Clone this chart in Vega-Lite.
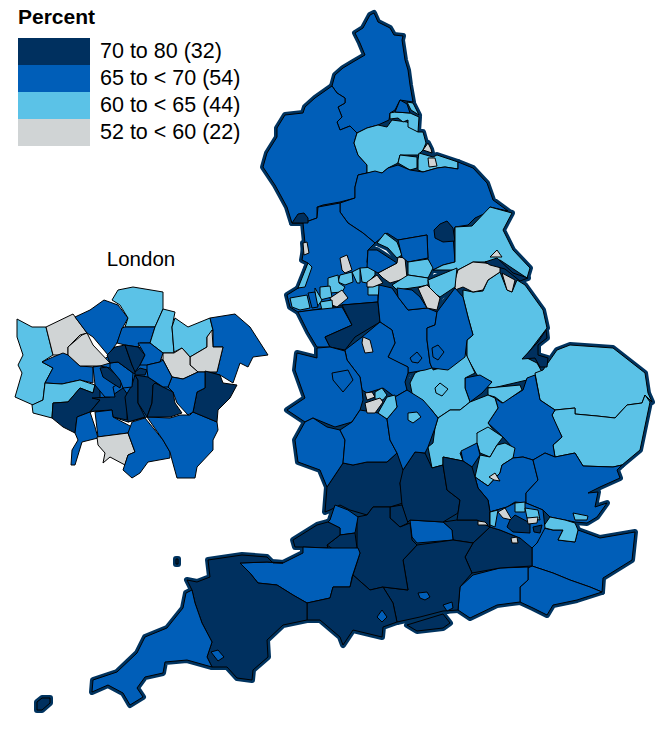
{"$schema":"https://vega.github.io/schema/vega-lite/v6.json","width":669,"height":730,"padding":0,"autosize":"none","background":"white","config":{"view":{"stroke":null},"font":"Liberation Sans"},
"datasets":{"label":[{"text":"London","mapx":141,"mapy":260}],
"map":[
{"type":"Feature","properties":{"name":"Northumberland","band":"65 to < 70 (54)","area":"England"},"geometry":{"type":"Polygon","coordinates":[[[374,13],[378,22],[390,28],[394,35],[403,36],[402,40],[405,60],[408,70],[410,85],[413,102],[400,100],[395,110],[390,113],[389,120],[378,125],[367,128],[357,133],[350,126],[340,130],[337,122],[342,117],[338,107],[345,103],[345,98],[337,93],[332,86],[335,75],[343,68],[353,62],[365,55],[360,43],[355,33],[363,28],[370,15],[374,13]]]}},
{"type":"Feature","properties":{"name":"Cumbria","band":"65 to < 70 (54)","area":"England"},"geometry":{"type":"Polygon","coordinates":[[[332,86],[315,98],[305,107],[303,113],[285,115],[277,128],[277,137],[267,153],[263,167],[275,185],[287,207],[292,223],[303,223],[317,218],[317,207],[323,205],[340,202],[355,198],[355,187],[358,175],[367,173],[367,165],[358,155],[354,143],[357,133],[350,126],[340,130],[337,122],[342,117],[338,107],[345,103],[345,98],[337,93],[332,86]]]}},
{"type":"Feature","properties":{"name":"Durham","band":"60 to < 65 (44)","area":"England"},"geometry":{"type":"Polygon","coordinates":[[[357,133],[367,128],[378,125],[387,127],[392,120],[407,122],[418,132],[423,132],[426,143],[423,150],[418,155],[400,155],[398,163],[388,168],[382,173],[373,172],[367,173],[367,165],[358,155],[354,143],[357,133]]]}},
{"type":"Feature","properties":{"name":"Tyne","band":"60 to < 65 (44)","area":"England"},"geometry":{"type":"Polygon","coordinates":[[[390,113],[395,112],[410,113],[419,117],[418,132],[408,127],[408,120],[403,122],[398,118],[390,119],[390,113]]]}},
{"type":"Feature","properties":{"name":"Newcastle","band":"65 to < 70 (54)","area":"England"},"geometry":{"type":"Polygon","coordinates":[[[400,100],[407,104],[410,113],[395,112],[400,100]]]}},
{"type":"Feature","properties":{"name":"North Tyneside","band":"60 to < 65 (44)","area":"England"},"geometry":{"type":"Polygon","coordinates":[[[407,102],[413,103],[419,115],[411,110],[407,102]]]}},
{"type":"Feature","properties":{"name":"Hartlepool","band":"52 to < 60 (22)","area":"England"},"geometry":{"type":"Polygon","coordinates":[[[423,150],[428,143],[431,149],[432,153],[423,150]]]}},
{"type":"Feature","properties":{"name":"Stockton","band":"60 to < 65 (44)","area":"England"},"geometry":{"type":"Polygon","coordinates":[[[419,153],[433,157],[437,155],[458,162],[458,169],[445,167],[437,168],[423,172],[418,170],[418,160],[419,153]]]}},
{"type":"Feature","properties":{"name":"Darlington","band":"60 to < 65 (44)","area":"England"},"geometry":{"type":"Polygon","coordinates":[[[400,155],[417,157],[417,168],[410,170],[398,163],[400,155]]]}},
{"type":"Feature","properties":{"name":"Middlesbrough","band":"52 to < 60 (22)","area":"England"},"geometry":{"type":"Polygon","coordinates":[[[428,158],[435,158],[437,166],[429,167],[428,158]]]}},
{"type":"Feature","properties":{"name":"North Yorkshire","band":"65 to < 70 (54)","area":"England"},"geometry":{"type":"Polygon","coordinates":[[[367,173],[375,171],[382,173],[388,168],[398,165],[410,170],[423,172],[437,168],[445,167],[458,169],[458,162],[473,168],[487,183],[493,200],[508,211],[490,207],[488,212],[475,218],[468,225],[455,227],[453,235],[455,262],[443,265],[433,270],[428,260],[427,235],[398,240],[387,233],[375,243],[363,233],[348,223],[340,212],[340,203],[355,198],[355,187],[358,175],[367,173]]]}},
{"type":"Feature","properties":{"name":"York","band":"70 to 80 (32)","area":"England"},"geometry":{"type":"Polygon","coordinates":[[[434,230],[440,224],[447,221],[453,228],[455,241],[443,242],[435,238],[434,230]]]}},
{"type":"Feature","properties":{"name":"East Riding","band":"60 to < 65 (44)","area":"England"},"geometry":{"type":"Polygon","coordinates":[[[455,227],[472,226],[490,207],[512,213],[503,230],[513,250],[530,268],[527,278],[500,260],[485,262],[473,262],[458,270],[433,270],[443,265],[455,262],[455,240],[455,227]]]}},
{"type":"Feature","properties":{"name":"Hull","band":"52 to < 60 (22)","area":"England"},"geometry":{"type":"Polygon","coordinates":[[[490,257],[497,250],[502,257],[490,257]]]}},
{"type":"Feature","properties":{"name":"Lincolnshire","band":"60 to < 65 (44)","area":"England"},"geometry":{"type":"Polygon","coordinates":[[[463,290],[473,292],[483,291],[488,280],[500,272],[507,290],[512,292],[517,280],[525,285],[543,310],[547,328],[525,357],[537,363],[542,372],[527,380],[493,388],[487,387],[492,382],[477,375],[473,368],[467,357],[467,340],[473,335],[468,317],[463,297],[463,290]]]}},
{"type":"Feature","properties":{"name":"North Lincolnshire","band":"52 to < 60 (22)","area":"England"},"geometry":{"type":"Polygon","coordinates":[[[458,270],[473,262],[485,263],[500,265],[500,272],[488,280],[483,290],[473,292],[463,287],[455,290],[455,280],[458,270]]]}},
{"type":"Feature","properties":{"name":"NE Lincolnshire","band":"52 to < 60 (22)","area":"England"},"geometry":{"type":"Polygon","coordinates":[[[502,273],[515,280],[512,292],[507,290],[502,273]]]}},
{"type":"Feature","properties":{"name":"Norfolk","band":"60 to < 65 (44)","area":"England"},"geometry":{"type":"Polygon","coordinates":[[[535,373],[543,370],[557,350],[570,345],[613,348],[645,373],[648,393],[652,402],[645,395],[642,403],[627,405],[615,418],[597,416],[575,414],[575,408],[555,410],[540,400],[535,373]]]}},
{"type":"Feature","properties":{"name":"Suffolk","band":"60 to < 65 (44)","area":"England"},"geometry":{"type":"Polygon","coordinates":[[[555,410],[575,408],[575,414],[597,416],[615,418],[627,405],[642,403],[645,395],[650,402],[640,450],[622,465],[613,467],[583,466],[575,453],[555,457],[553,445],[562,437],[555,423],[552,415],[555,410]]]}},
{"type":"Feature","properties":{"name":"Cambridgeshire","band":"65 to < 70 (54)","area":"England"},"geometry":{"type":"Polygon","coordinates":[[[527,378],[535,375],[540,400],[555,410],[552,415],[562,437],[553,445],[555,457],[545,453],[533,460],[523,457],[513,458],[512,447],[503,437],[488,423],[498,408],[495,398],[502,403],[523,390],[527,378]]]}},
{"type":"Feature","properties":{"name":"Peterborough","band":"60 to < 65 (44)","area":"England"},"geometry":{"type":"Polygon","coordinates":[[[488,388],[520,385],[522,390],[503,403],[495,397],[488,395],[488,388]]]}},
{"type":"Feature","properties":{"name":"Rutland","band":"65 to < 70 (54)","area":"England"},"geometry":{"type":"Polygon","coordinates":[[[465,378],[480,375],[492,382],[482,393],[470,402],[465,388],[465,378]]]}},
{"type":"Feature","properties":{"name":"Leicestershire","band":"60 to < 65 (44)","area":"England"},"geometry":{"type":"Polygon","coordinates":[[[410,383],[415,373],[432,365],[433,370],[450,365],[465,352],[475,373],[465,378],[465,388],[470,402],[460,410],[450,410],[438,418],[430,408],[420,402],[412,393],[410,383]]]}},
{"type":"Feature","properties":{"name":"Leicester","band":"60 to < 65 (44)","area":"England"},"geometry":{"type":"Polygon","coordinates":[[[435,388],[440,383],[448,389],[442,396],[436,393],[435,388]]]}},
{"type":"Feature","properties":{"name":"Northamptonshire","band":"60 to < 65 (44)","area":"England"},"geometry":{"type":"Polygon","coordinates":[[[438,418],[450,410],[460,410],[470,402],[488,395],[495,398],[498,408],[488,423],[497,435],[477,433],[480,442],[460,453],[463,461],[443,457],[443,465],[432,468],[428,447],[433,443],[435,428],[438,418]]]}},
{"type":"Feature","properties":{"name":"Bedford","band":"60 to < 65 (44)","area":"England"},"geometry":{"type":"Polygon","coordinates":[[[477,433],[488,427],[503,437],[497,445],[490,457],[480,453],[477,443],[477,433]]]}},
{"type":"Feature","properties":{"name":"Central Bedfordshire","band":"60 to < 65 (44)","area":"England"},"geometry":{"type":"Polygon","coordinates":[[[505,443],[515,448],[513,458],[502,465],[500,473],[488,486],[475,477],[480,455],[490,457],[497,445],[505,443]]]}},
{"type":"Feature","properties":{"name":"Milton Keynes","band":"65 to < 70 (54)","area":"England"},"geometry":{"type":"Polygon","coordinates":[[[461,451],[477,443],[480,455],[472,467],[463,461],[461,451]]]}},
{"type":"Feature","properties":{"name":"Hertfordshire","band":"65 to < 70 (54)","area":"England"},"geometry":{"type":"Polygon","coordinates":[[[513,458],[523,457],[533,460],[538,480],[526,493],[526,503],[515,502],[507,507],[490,512],[488,500],[478,488],[475,477],[488,486],[500,473],[502,465],[513,458]]]}},
{"type":"Feature","properties":{"name":"Luton","band":"52 to < 60 (22)","area":"England"},"geometry":{"type":"Polygon","coordinates":[[[489,477],[495,473],[500,481],[494,480],[489,477]]]}},
{"type":"Feature","properties":{"name":"Essex","band":"65 to < 70 (54)","area":"England"},"geometry":{"type":"Polygon","coordinates":[[[533,460],[545,453],[555,457],[575,453],[583,466],[613,467],[622,465],[617,470],[620,478],[600,487],[588,493],[598,492],[595,507],[607,503],[597,517],[587,523],[575,522],[565,520],[550,517],[543,510],[526,503],[526,493],[538,480],[533,460]]]}},
{"type":"Feature","properties":{"name":"Southend","band":"60 to < 65 (44)","area":"England"},"geometry":{"type":"Polygon","coordinates":[[[573,513],[588,516],[587,520],[575,520],[573,513]]]}},
{"type":"Feature","properties":{"name":"Kent","band":"65 to < 70 (54)","area":"England"},"geometry":{"type":"Polygon","coordinates":[[[543,528],[553,530],[563,530],[558,540],[575,542],[578,530],[600,538],[635,532],[632,560],[603,578],[602,592],[590,587],[570,580],[553,573],[532,566],[532,543],[537,543],[543,528]]]}},
{"type":"Feature","properties":{"name":"Thurrock","band":"60 to < 65 (44)","area":"England"},"geometry":{"type":"Polygon","coordinates":[[[543,527],[550,517],[565,520],[575,523],[578,530],[575,542],[558,540],[563,530],[553,530],[545,528],[543,527]]]}},
{"type":"Feature","properties":{"name":"East Sussex","band":"65 to < 70 (54)","area":"England"},"geometry":{"type":"Polygon","coordinates":[[[528,568],[532,566],[553,573],[570,580],[590,587],[602,592],[577,600],[553,605],[547,615],[533,608],[520,602],[520,587],[528,580],[528,568]]]}},
{"type":"Feature","properties":{"name":"West Sussex","band":"65 to < 70 (54)","area":"England"},"geometry":{"type":"Polygon","coordinates":[[[473,575],[500,568],[528,567],[528,580],[520,587],[520,602],[497,605],[470,618],[458,610],[460,587],[473,575]]]}},
{"type":"Feature","properties":{"name":"Surrey","band":"70 to 80 (32)","area":"England"},"geometry":{"type":"Polygon","coordinates":[[[473,543],[490,527],[500,530],[520,538],[532,543],[532,566],[500,568],[472,573],[465,557],[473,543]]]}},
{"type":"Feature","properties":{"name":"Berkshire","band":"70 to 80 (32)","area":"England"},"geometry":{"type":"Polygon","coordinates":[[[443,522],[457,520],[477,520],[490,527],[473,543],[453,540],[452,530],[443,522]]]}},
{"type":"Feature","properties":{"name":"West Berkshire","band":"65 to < 70 (54)","area":"England"},"geometry":{"type":"Polygon","coordinates":[[[410,520],[443,522],[452,530],[453,540],[417,543],[412,537],[410,520]]]}},
{"type":"Feature","properties":{"name":"Hampshire","band":"70 to 80 (32)","area":"England"},"geometry":{"type":"Polygon","coordinates":[[[383,587],[408,590],[403,560],[417,545],[453,540],[473,543],[465,557],[472,573],[460,587],[458,610],[443,611],[420,617],[397,622],[393,603],[383,587]]]}},
{"type":"Feature","properties":{"name":"Southampton","band":"65 to < 70 (54)","area":"England"},"geometry":{"type":"Polygon","coordinates":[[[418,593],[427,592],[430,597],[425,600],[420,598],[418,593]]]}},
{"type":"Feature","properties":{"name":"Portsmouth","band":"65 to < 70 (54)","area":"England"},"geometry":{"type":"Polygon","coordinates":[[[443,605],[452,602],[453,608],[447,611],[443,605]]]}},
{"type":"Feature","properties":{"name":"Isle of Wight","band":"70 to 80 (32)","area":"England"},"geometry":{"type":"Polygon","coordinates":[[[407,625],[420,621],[443,614],[450,623],[443,628],[417,631],[407,625]]]}},
{"type":"Feature","properties":{"name":"Gloucestershire","band":"70 to 80 (32)","area":"England"},"geometry":{"type":"Polygon","coordinates":[[[327,487],[343,463],[353,465],[367,462],[387,462],[397,453],[407,470],[400,483],[403,503],[390,507],[373,507],[367,515],[350,510],[340,505],[330,510],[325,512],[327,487]]]}},
{"type":"Feature","properties":{"name":"Oxfordshire","band":"70 to 80 (32)","area":"England"},"geometry":{"type":"Polygon","coordinates":[[[403,470],[415,452],[425,453],[432,468],[443,465],[447,490],[460,500],[458,513],[443,522],[410,520],[407,523],[402,505],[400,483],[403,470]]]}},
{"type":"Feature","properties":{"name":"Buckinghamshire","band":"70 to 80 (32)","area":"England"},"geometry":{"type":"Polygon","coordinates":[[[443,457],[463,461],[472,467],[475,477],[478,488],[488,500],[490,512],[490,527],[477,520],[457,520],[458,513],[460,500],[447,490],[443,465],[443,457]]]}},
{"type":"Feature","properties":{"name":"Swindon","band":"70 to 80 (32)","area":"England"},"geometry":{"type":"Polygon","coordinates":[[[390,518],[390,507],[402,505],[408,523],[400,527],[390,518]]]}},
{"type":"Feature","properties":{"name":"Wiltshire","band":"70 to 80 (32)","area":"England"},"geometry":{"type":"Polygon","coordinates":[[[357,517],[367,515],[373,507],[390,507],[390,518],[400,527],[410,523],[412,540],[417,545],[403,560],[408,590],[383,587],[370,590],[353,575],[360,553],[357,547],[357,517]]]}},
{"type":"Feature","properties":{"name":"South Gloucestershire","band":"65 to < 70 (54)","area":"England"},"geometry":{"type":"Polygon","coordinates":[[[330,520],[335,505],[348,510],[358,517],[355,533],[340,535],[340,528],[328,522],[330,520]]]}},
{"type":"Feature","properties":{"name":"BANES","band":"70 to 80 (32)","area":"England"},"geometry":{"type":"Polygon","coordinates":[[[327,545],[340,535],[355,533],[357,548],[337,552],[327,545]]]}},
{"type":"Feature","properties":{"name":"North Somerset","band":"70 to 80 (32)","area":"England"},"geometry":{"type":"Polygon","coordinates":[[[293,540],[317,525],[328,522],[340,528],[340,535],[327,545],[328,548],[303,547],[295,547],[293,540]]]}},
{"type":"Feature","properties":{"name":"Somerset","band":"65 to < 70 (54)","area":"England"},"geometry":{"type":"Polygon","coordinates":[[[240,563],[267,562],[283,563],[303,553],[303,547],[327,548],[358,548],[360,553],[352,577],[350,587],[333,587],[330,598],[307,603],[293,595],[277,585],[258,583],[250,573],[240,563]]]}},
{"type":"Feature","properties":{"name":"Dorset","band":"70 to 80 (32)","area":"England"},"geometry":{"type":"Polygon","coordinates":[[[307,603],[330,598],[333,587],[350,587],[353,575],[370,590],[383,587],[393,603],[397,622],[383,627],[382,637],[353,630],[343,645],[340,637],[320,620],[307,620],[307,603]]]}},
{"type":"Feature","properties":{"name":"Bournemouth","band":"65 to < 70 (54)","area":"England"},"geometry":{"type":"Polygon","coordinates":[[[377,617],[382,610],[387,617],[382,622],[377,617]]]}},
{"type":"Feature","properties":{"name":"Devon","band":"70 to 80 (32)","area":"England"},"geometry":{"type":"Polygon","coordinates":[[[208,560],[242,555],[267,557],[273,563],[283,563],[267,562],[240,563],[250,573],[258,583],[277,585],[293,595],[307,603],[307,620],[283,625],[267,640],[268,657],[253,670],[252,680],[237,678],[227,667],[212,667],[207,657],[212,642],[202,623],[195,603],[192,590],[187,580],[197,582],[210,577],[208,560]]]}},
{"type":"Feature","properties":{"name":"Plymouth","band":"65 to < 70 (54)","area":"England"},"geometry":{"type":"Polygon","coordinates":[[[211,652],[218,650],[224,657],[218,661],[211,652]]]}},
{"type":"Feature","properties":{"name":"Cornwall","band":"65 to < 70 (54)","area":"England"},"geometry":{"type":"Polygon","coordinates":[[[186,593],[192,590],[195,603],[202,623],[212,642],[207,657],[212,667],[187,660],[165,662],[163,673],[145,677],[137,688],[143,697],[130,705],[123,693],[108,685],[92,692],[93,680],[117,672],[137,653],[145,637],[167,628],[183,608],[186,593]]]}},
{"type":"Feature","properties":{"name":"Isles of Scilly","band":"70 to 80 (32)","area":"England"},"geometry":{"type":"Polygon","coordinates":[[[37,702],[42,698],[50,698],[50,703],[42,710],[37,710],[37,702]]]}},
{"type":"Feature","properties":{"name":"Lundy","band":"70 to 80 (32)","area":"England"},"geometry":{"type":"Polygon","coordinates":[[[176,559],[178,559],[178,564],[176,564],[176,559]]]}},
{"type":"Feature","properties":{"name":"Lancashire","band":"65 to < 70 (54)","area":"England"},"geometry":{"type":"Polygon","coordinates":[[[303,223],[317,218],[318,207],[340,203],[340,212],[348,223],[363,233],[375,243],[368,250],[367,262],[378,285],[378,302],[342,305],[313,310],[298,312],[290,307],[287,295],[300,287],[308,263],[302,260],[305,243],[303,223]]]}},
{"type":"Feature","properties":{"name":"Morecambe Bay","band":"70 to 80 (32)","area":"England"},"geometry":{"type":"Polygon","coordinates":[[[292,223],[298,214],[304,213],[308,218],[308,223],[292,223]]]}},
{"type":"Feature","properties":{"name":"Blackpool","band":"52 to < 60 (22)","area":"England"},"geometry":{"type":"Polygon","coordinates":[[[303,243],[307,242],[309,253],[304,255],[303,243]]]}},
{"type":"Feature","properties":{"name":"Sefton","band":"60 to < 65 (44)","area":"England"},"geometry":{"type":"Polygon","coordinates":[[[308,263],[312,267],[305,287],[298,288],[302,278],[308,263]]]}},
{"type":"Feature","properties":{"name":"Wirral","band":"60 to < 65 (44)","area":"England"},"geometry":{"type":"Polygon","coordinates":[[[290,298],[307,295],[310,308],[300,310],[292,307],[290,298]]]}},
{"type":"Feature","properties":{"name":"A","band":"52 to < 60 (22)","area":"England"},"geometry":{"type":"Polygon","coordinates":[[[340,258],[347,255],[352,270],[345,273],[342,270],[340,258]]]}},
{"type":"Feature","properties":{"name":"B","band":"60 to < 65 (44)","area":"England"},"geometry":{"type":"Polygon","coordinates":[[[340,275],[352,272],[353,282],[345,285],[338,282],[340,275]]]}},
{"type":"Feature","properties":{"name":"C","band":"60 to < 65 (44)","area":"England"},"geometry":{"type":"Polygon","coordinates":[[[328,278],[338,275],[339,283],[345,287],[342,292],[330,293],[328,287],[328,278]]]}},
{"type":"Feature","properties":{"name":"D","band":"60 to < 65 (44)","area":"England"},"geometry":{"type":"Polygon","coordinates":[[[320,287],[330,286],[332,297],[320,300],[320,287]]]}},
{"type":"Feature","properties":{"name":"E","band":"52 to < 60 (22)","area":"England"},"geometry":{"type":"Polygon","coordinates":[[[330,298],[342,290],[348,298],[337,307],[332,305],[330,298]]]}},
{"type":"Feature","properties":{"name":"F","band":"60 to < 65 (44)","area":"England"},"geometry":{"type":"Polygon","coordinates":[[[320,302],[332,300],[333,310],[322,310],[320,302]]]}},
{"type":"Feature","properties":{"name":"G","band":"60 to < 65 (44)","area":"England"},"geometry":{"type":"Polygon","coordinates":[[[315,288],[322,300],[317,307],[315,297],[315,288]]]}},
{"type":"Feature","properties":{"name":"H","band":"65 to < 70 (54)","area":"England"},"geometry":{"type":"Polygon","coordinates":[[[308,293],[315,292],[318,307],[312,308],[308,293]]]}},
{"type":"Feature","properties":{"name":"I","band":"60 to < 65 (44)","area":"England"},"geometry":{"type":"Polygon","coordinates":[[[352,272],[360,268],[360,283],[357,283],[352,272]]]}},
{"type":"Feature","properties":{"name":"J","band":"60 to < 65 (44)","area":"England"},"geometry":{"type":"Polygon","coordinates":[[[360,268],[375,267],[375,275],[367,283],[362,282],[360,268]]]}},
{"type":"Feature","properties":{"name":"K","band":"60 to < 65 (44)","area":"England"},"geometry":{"type":"Polygon","coordinates":[[[368,287],[380,285],[380,295],[368,295],[368,287]]]}},
{"type":"Feature","properties":{"name":"L","band":"52 to < 60 (22)","area":"England"},"geometry":{"type":"Polygon","coordinates":[[[367,282],[377,275],[383,283],[373,287],[367,287],[367,282]]]}},
{"type":"Feature","properties":{"name":"Leeds","band":"52 to < 60 (22)","area":"England"},"geometry":{"type":"Polygon","coordinates":[[[378,273],[397,263],[398,257],[405,258],[407,278],[390,283],[383,278],[378,273]]]}},
{"type":"Feature","properties":{"name":"M","band":"60 to < 65 (44)","area":"England"},"geometry":{"type":"Polygon","coordinates":[[[377,243],[385,233],[397,242],[402,255],[397,258],[388,248],[377,243]]]}},
{"type":"Feature","properties":{"name":"N","band":"65 to < 70 (54)","area":"England"},"geometry":{"type":"Polygon","coordinates":[[[368,250],[377,250],[397,263],[378,273],[367,267],[368,250]]]}},
{"type":"Feature","properties":{"name":"O","band":"65 to < 70 (54)","area":"England"},"geometry":{"type":"Polygon","coordinates":[[[398,240],[427,235],[428,258],[408,262],[402,257],[398,240]]]}},
{"type":"Feature","properties":{"name":"P","band":"60 to < 65 (44)","area":"England"},"geometry":{"type":"Polygon","coordinates":[[[408,262],[428,259],[433,268],[428,278],[408,275],[408,262]]]}},
{"type":"Feature","properties":{"name":"Q","band":"60 to < 65 (44)","area":"England"},"geometry":{"type":"Polygon","coordinates":[[[392,285],[408,275],[428,278],[428,285],[418,287],[397,290],[392,285]]]}},
{"type":"Feature","properties":{"name":"R","band":"60 to < 65 (44)","area":"England"},"geometry":{"type":"Polygon","coordinates":[[[428,280],[457,268],[455,287],[440,297],[430,290],[428,280]]]}},
{"type":"Feature","properties":{"name":"Cheshire West","band":"65 to < 70 (54)","area":"England"},"geometry":{"type":"Polygon","coordinates":[[[298,312],[313,310],[342,307],[352,325],[325,337],[330,347],[317,347],[308,332],[298,312]]]}},
{"type":"Feature","properties":{"name":"Cheshire East","band":"70 to 80 (32)","area":"England"},"geometry":{"type":"Polygon","coordinates":[[[342,305],[378,302],[380,322],[355,337],[345,350],[330,347],[325,337],[352,325],[342,305]]]}},
{"type":"Feature","properties":{"name":"Derbyshire","band":"65 to < 70 (54)","area":"England"},"geometry":{"type":"Polygon","coordinates":[[[379,285],[392,288],[398,297],[408,310],[427,308],[437,312],[435,325],[427,328],[427,340],[430,363],[432,368],[425,370],[408,373],[408,367],[393,360],[388,357],[395,343],[392,330],[380,322],[378,302],[379,285]]]}},
{"type":"Feature","properties":{"name":"South Yorkshire","band":"65 to < 70 (54)","area":"England"},"geometry":{"type":"Polygon","coordinates":[[[397,288],[412,290],[420,297],[427,308],[408,310],[398,297],[397,288]]]}},
{"type":"Feature","properties":{"name":"Rotherham","band":"52 to < 60 (22)","area":"England"},"geometry":{"type":"Polygon","coordinates":[[[418,288],[427,285],[440,298],[437,310],[427,308],[418,288]]]}},
{"type":"Feature","properties":{"name":"Nottinghamshire","band":"65 to < 70 (54)","area":"England"},"geometry":{"type":"Polygon","coordinates":[[[437,312],[455,288],[463,297],[468,317],[473,335],[467,340],[465,357],[448,370],[432,368],[430,363],[427,340],[427,328],[435,325],[437,312]]]}},
{"type":"Feature","properties":{"name":"Derby","band":"65 to < 70 (54)","area":"England"},"geometry":{"type":"Polygon","coordinates":[[[410,358],[417,352],[422,358],[418,363],[412,362],[410,358]]]}},
{"type":"Feature","properties":{"name":"Nottingham","band":"65 to < 70 (54)","area":"England"},"geometry":{"type":"Polygon","coordinates":[[[432,348],[438,345],[444,352],[438,360],[433,357],[432,348]]]}},
{"type":"Feature","properties":{"name":"Staffordshire","band":"65 to < 70 (54)","area":"England"},"geometry":{"type":"Polygon","coordinates":[[[362,337],[380,322],[392,330],[395,343],[388,357],[408,367],[408,373],[405,382],[407,390],[395,397],[383,388],[367,393],[362,390],[360,377],[347,360],[345,350],[362,337]]]}},
{"type":"Feature","properties":{"name":"Stoke","band":"52 to < 60 (22)","area":"England"},"geometry":{"type":"Polygon","coordinates":[[[363,337],[370,340],[373,352],[365,353],[362,343],[363,337]]]}},
{"type":"Feature","properties":{"name":"Shropshire","band":"65 to < 70 (54)","area":"England"},"geometry":{"type":"Polygon","coordinates":[[[317,348],[330,347],[345,351],[347,360],[360,377],[362,390],[363,400],[360,410],[352,422],[335,427],[313,418],[305,422],[287,410],[305,398],[295,370],[297,353],[317,358],[317,348]]]}},
{"type":"Feature","properties":{"name":"Telford","band":"65 to < 70 (54)","area":"England"},"geometry":{"type":"Polygon","coordinates":[[[332,373],[348,370],[353,380],[343,392],[333,380],[332,373]]]}},
{"type":"Feature","properties":{"name":"Herefordshire","band":"65 to < 70 (54)","area":"England"},"geometry":{"type":"Polygon","coordinates":[[[313,418],[327,427],[340,430],[345,440],[343,463],[327,487],[320,470],[298,462],[295,440],[305,422],[313,418]]]}},
{"type":"Feature","properties":{"name":"Worcestershire","band":"65 to < 70 (54)","area":"England"},"geometry":{"type":"Polygon","coordinates":[[[340,430],[352,422],[360,410],[378,413],[387,419],[390,440],[397,453],[387,462],[367,462],[353,465],[343,463],[345,440],[340,430]]]}},
{"type":"Feature","properties":{"name":"Warwickshire","band":"65 to < 70 (54)","area":"England"},"geometry":{"type":"Polygon","coordinates":[[[387,419],[397,407],[395,397],[407,390],[423,400],[430,408],[438,418],[435,428],[428,447],[425,453],[415,452],[403,470],[397,453],[390,440],[387,419]]]}},
{"type":"Feature","properties":{"name":"Coventry","band":"60 to < 65 (44)","area":"England"},"geometry":{"type":"Polygon","coordinates":[[[408,413],[417,412],[421,417],[413,423],[408,420],[408,413]]]}},
{"type":"Feature","properties":{"name":"Walsall","band":"52 to < 60 (22)","area":"England"},"geometry":{"type":"Polygon","coordinates":[[[365,393],[372,392],[375,397],[367,400],[365,393]]]}},
{"type":"Feature","properties":{"name":"Wolverhampton","band":"60 to < 65 (44)","area":"England"},"geometry":{"type":"Polygon","coordinates":[[[375,392],[382,388],[387,395],[383,400],[375,399],[375,392]]]}},
{"type":"Feature","properties":{"name":"Sandwell","band":"52 to < 60 (22)","area":"England"},"geometry":{"type":"Polygon","coordinates":[[[365,403],[380,398],[383,402],[375,413],[367,413],[365,403]]]}},
{"type":"Feature","properties":{"name":"Birmingham","band":"60 to < 65 (44)","area":"England"},"geometry":{"type":"Polygon","coordinates":[[[387,397],[395,395],[397,407],[387,419],[378,413],[387,397]]]}},
{"type":"Feature","properties":{"name":"The Wash","band":"70 to 80 (32)","area":"England"},"geometry":{"type":"Polygon","coordinates":[[[522,359],[538,342],[546,330],[547,338],[538,345],[538,355],[548,358],[547,367],[540,367],[535,358],[522,359]]]}},
{"type":"Feature","properties":{"name":"Humber","band":"70 to 80 (32)","area":"England"},"geometry":{"type":"Polygon","coordinates":[[[485,262],[497,258],[513,273],[528,278],[520,281],[505,269],[490,265],[485,262]]]}},
{"type":"Feature","properties":{"name":"Greater London","band":"65 to < 70 (54)","area":"England"},"geometry":{"type":"Polygon","coordinates":[[[490,512],[507,507],[515,503],[526,503],[543,510],[545,528],[537,543],[532,548],[520,538],[500,530],[490,527],[490,512]]]}},
{"type":"Feature","properties":{"name":"GL1","band":"60 to < 65 (44)","area":"England"},"geometry":{"type":"Polygon","coordinates":[[[490,512],[498,510],[495,527],[490,525],[490,512]]]}},
{"type":"Feature","properties":{"name":"GL2","band":"52 to < 60 (22)","area":"England"},"geometry":{"type":"Polygon","coordinates":[[[498,512],[505,508],[512,520],[503,518],[498,512]]]}},
{"type":"Feature","properties":{"name":"GL3","band":"60 to < 65 (44)","area":"England"},"geometry":{"type":"Polygon","coordinates":[[[515,503],[525,502],[525,512],[515,512],[515,503]]]}},
{"type":"Feature","properties":{"name":"GL4","band":"70 to 80 (32)","area":"England"},"geometry":{"type":"Polygon","coordinates":[[[510,520],[515,515],[530,523],[530,533],[513,532],[507,527],[510,520]]]}},
{"type":"Feature","properties":{"name":"GL5","band":"60 to < 65 (44)","area":"England"},"geometry":{"type":"Polygon","coordinates":[[[525,508],[538,510],[540,520],[527,518],[525,508]]]}},
{"type":"Feature","properties":{"name":"GL6","band":"52 to < 60 (22)","area":"England"},"geometry":{"type":"Polygon","coordinates":[[[527,518],[538,517],[537,523],[528,524],[527,518]]]}},
{"type":"Feature","properties":{"name":"GL7","band":"70 to 80 (32)","area":"England"},"geometry":{"type":"Polygon","coordinates":[[[533,527],[542,525],[540,533],[534,532],[533,527]]]}},
{"type":"Feature","properties":{"name":"GL8","band":"52 to < 60 (22)","area":"England"},"geometry":{"type":"Polygon","coordinates":[[[511,538],[517,537],[518,543],[512,543],[511,538]]]}},
{"type":"Feature","properties":{"name":"Slough","band":"52 to < 60 (22)","area":"England"},"geometry":{"type":"Polygon","coordinates":[[[478,521],[485,522],[488,525],[478,525],[478,521]]]}},
{"type":"Feature","properties":{"name":"Central London","band":"65 to < 70 (54)","area":"London"},"geometry":{"type":"Polygon","coordinates":[[[93,367],[110,355],[135,345],[163,360],[172,392],[147,417],[128,422],[113,417],[95,411],[90,412],[100,400],[93,367]]]}},
{"type":"Feature","properties":{"name":"Hillingdon","band":"60 to < 65 (44)","area":"London"},"geometry":{"type":"Polygon","coordinates":[[[17,319],[32,327],[46,327],[53,355],[42,362],[53,368],[45,383],[43,400],[33,405],[15,397],[22,373],[18,365],[23,355],[17,337],[17,319]]]}},
{"type":"Feature","properties":{"name":"Harrow","band":"52 to < 60 (22)","area":"London"},"geometry":{"type":"Polygon","coordinates":[[[46,327],[73,314],[87,333],[80,335],[68,347],[68,355],[53,355],[46,327]]]}},
{"type":"Feature","properties":{"name":"Barnet","band":"65 to < 70 (54)","area":"London"},"geometry":{"type":"Polygon","coordinates":[[[75,317],[90,310],[104,300],[118,305],[128,318],[123,327],[117,343],[108,355],[93,337],[87,333],[75,317]]]}},
{"type":"Feature","properties":{"name":"Enfield","band":"60 to < 65 (44)","area":"London"},"geometry":{"type":"Polygon","coordinates":[[[112,300],[118,290],[133,287],[163,292],[163,309],[155,327],[125,327],[128,318],[120,305],[112,300]]]}},
{"type":"Feature","properties":{"name":"Haringey","band":"65 to < 70 (54)","area":"London"},"geometry":{"type":"Polygon","coordinates":[[[125,327],[155,327],[150,343],[140,343],[138,347],[125,345],[117,343],[122,328],[125,327]]]}},
{"type":"Feature","properties":{"name":"Waltham Forest","band":"60 to < 65 (44)","area":"London"},"geometry":{"type":"Polygon","coordinates":[[[163,309],[175,312],[172,327],[174,353],[163,353],[150,343],[155,327],[163,309]]]}},
{"type":"Feature","properties":{"name":"Redbridge","band":"60 to < 65 (44)","area":"London"},"geometry":{"type":"Polygon","coordinates":[[[175,318],[188,327],[210,318],[213,330],[207,337],[207,347],[190,357],[182,348],[174,352],[172,327],[175,318]]]}},
{"type":"Feature","properties":{"name":"Havering","band":"65 to < 70 (54)","area":"London"},"geometry":{"type":"Polygon","coordinates":[[[210,318],[235,314],[250,327],[268,355],[253,357],[248,367],[240,363],[233,383],[220,375],[205,371],[217,372],[223,347],[213,347],[213,330],[210,318]]]}},
{"type":"Feature","properties":{"name":"Barking","band":"52 to < 60 (22)","area":"London"},"geometry":{"type":"Polygon","coordinates":[[[190,357],[207,347],[207,337],[212,330],[213,347],[223,347],[217,372],[198,372],[190,365],[190,357]]]}},
{"type":"Feature","properties":{"name":"Newham","band":"52 to < 60 (22)","area":"London"},"geometry":{"type":"Polygon","coordinates":[[[163,353],[174,353],[182,348],[190,357],[190,365],[198,372],[183,379],[172,377],[163,360],[163,353]]]}},
{"type":"Feature","properties":{"name":"Ealing","band":"65 to < 70 (54)","area":"London"},"geometry":{"type":"Polygon","coordinates":[[[42,362],[53,357],[63,353],[68,355],[80,366],[93,367],[93,383],[80,380],[62,384],[45,383],[53,368],[42,362]]]}},
{"type":"Feature","properties":{"name":"Brent","band":"52 to < 60 (22)","area":"London"},"geometry":{"type":"Polygon","coordinates":[[[68,347],[82,335],[87,333],[93,345],[110,363],[100,366],[80,366],[68,355],[68,347]]]}},
{"type":"Feature","properties":{"name":"Hounslow","band":"60 to < 65 (44)","area":"London"},"geometry":{"type":"Polygon","coordinates":[[[45,383],[62,384],[80,380],[95,385],[93,393],[80,388],[68,402],[53,403],[52,418],[33,413],[32,405],[43,400],[45,383]]]}},
{"type":"Feature","properties":{"name":"Richmond","band":"70 to 80 (32)","area":"London"},"geometry":{"type":"Polygon","coordinates":[[[53,403],[68,402],[80,388],[93,393],[95,385],[100,388],[100,400],[90,412],[77,417],[75,433],[63,427],[52,418],[53,403]]]}},
{"type":"Feature","properties":{"name":"Wandsworth","band":"70 to 80 (32)","area":"London"},"geometry":{"type":"Polygon","coordinates":[[[92,398],[110,397],[123,388],[128,395],[127,420],[113,417],[112,410],[95,411],[90,412],[100,400],[92,398]]]}},
{"type":"Feature","properties":{"name":"Kingston","band":"65 to < 70 (54)","area":"London"},"geometry":{"type":"Polygon","coordinates":[[[77,417],[90,412],[95,427],[98,438],[82,442],[75,465],[71,465],[72,450],[78,440],[75,433],[77,417]]]}},
{"type":"Feature","properties":{"name":"Merton","band":"65 to < 70 (54)","area":"London"},"geometry":{"type":"Polygon","coordinates":[[[95,412],[112,410],[113,417],[132,427],[128,433],[98,437],[95,412]]]}},
{"type":"Feature","properties":{"name":"Sutton","band":"52 to < 60 (22)","area":"London"},"geometry":{"type":"Polygon","coordinates":[[[97,437],[128,433],[135,452],[128,455],[125,465],[110,457],[103,463],[105,453],[98,445],[97,437]]]}},
{"type":"Feature","properties":{"name":"Croydon","band":"65 to < 70 (54)","area":"London"},"geometry":{"type":"Polygon","coordinates":[[[132,422],[145,418],[163,440],[170,452],[170,458],[148,462],[140,473],[132,478],[123,470],[128,455],[135,452],[128,433],[132,422]]]}},
{"type":"Feature","properties":{"name":"Bromley","band":"65 to < 70 (54)","area":"London"},"geometry":{"type":"Polygon","coordinates":[[[147,417],[170,418],[180,415],[190,415],[193,412],[217,422],[218,430],[213,440],[213,450],[197,467],[195,478],[177,478],[172,460],[170,452],[163,440],[147,417]]]}},
{"type":"Feature","properties":{"name":"Bexley","band":"70 to 80 (32)","area":"London"},"geometry":{"type":"Polygon","coordinates":[[[205,371],[220,375],[223,383],[237,385],[230,398],[218,410],[217,422],[193,412],[197,392],[205,388],[205,371]]]}},
{"type":"Feature","properties":{"name":"Greenwich","band":"65 to < 70 (54)","area":"London"},"geometry":{"type":"Polygon","coordinates":[[[168,387],[172,377],[183,379],[198,372],[205,372],[205,388],[197,392],[193,412],[188,415],[177,403],[173,392],[168,387]]]}},
{"type":"Feature","properties":{"name":"Lambeth","band":"70 to 80 (32)","area":"London"},"geometry":{"type":"Polygon","coordinates":[[[135,375],[138,380],[138,403],[145,417],[128,422],[125,397],[132,385],[135,375]]]}},
{"type":"Feature","properties":{"name":"Southwark","band":"70 to 80 (32)","area":"London"},"geometry":{"type":"Polygon","coordinates":[[[135,375],[148,377],[163,387],[155,383],[153,385],[152,403],[147,417],[138,403],[138,380],[135,375]]]}},
{"type":"Feature","properties":{"name":"Lewisham","band":"70 to 80 (32)","area":"London"},"geometry":{"type":"Polygon","coordinates":[[[155,383],[163,387],[173,392],[175,403],[182,413],[170,417],[147,417],[152,403],[153,385],[155,383]]]}},
{"type":"Feature","properties":{"name":"Hammersmith","band":"65 to < 70 (54)","area":"London"},"geometry":{"type":"Polygon","coordinates":[[[100,366],[110,368],[122,382],[113,387],[115,397],[105,397],[95,385],[93,367],[100,366]]]}},
{"type":"Feature","properties":{"name":"Kensington","band":"70 to 80 (32)","area":"London"},"geometry":{"type":"Polygon","coordinates":[[[100,368],[107,367],[122,380],[120,388],[112,383],[103,377],[100,368]]]}},
{"type":"Feature","properties":{"name":"Westminster","band":"65 to < 70 (54)","area":"London"},"geometry":{"type":"Polygon","coordinates":[[[110,363],[118,362],[133,373],[132,387],[123,388],[120,380],[110,368],[110,363]]]}},
{"type":"Feature","properties":{"name":"Camden","band":"70 to 80 (32)","area":"London"},"geometry":{"type":"Polygon","coordinates":[[[107,355],[115,347],[125,345],[132,365],[138,375],[133,373],[118,362],[110,363],[107,355]]]}},
{"type":"Feature","properties":{"name":"Islington","band":"70 to 80 (32)","area":"London"},"geometry":{"type":"Polygon","coordinates":[[[125,345],[138,347],[145,355],[140,365],[135,372],[132,365],[125,345]]]}},
{"type":"Feature","properties":{"name":"Hackney","band":"65 to < 70 (54)","area":"London"},"geometry":{"type":"Polygon","coordinates":[[[138,343],[150,343],[163,353],[160,362],[147,365],[140,365],[145,355],[138,343]]]}},
{"type":"Feature","properties":{"name":"City","band":"70 to 80 (32)","area":"London"},"geometry":{"type":"Polygon","coordinates":[[[135,372],[140,368],[147,370],[145,375],[135,375],[135,372]]]}},
{"type":"Feature","properties":{"name":"Tower Hamlets","band":"65 to < 70 (54)","area":"London"},"geometry":{"type":"Polygon","coordinates":[[[147,365],[160,362],[163,360],[172,377],[168,387],[163,387],[148,377],[147,370],[147,365]]]}}
]},
"projection":{"type":"identity","scale":1,"translate":[0,0]},
"layer":[
{"data":{"name":"map"},"transform":[{"filter":"datum.properties.area === 'England'"}],"mark":{"type":"geoshape","fill":"#00335f","stroke":"#00335f","strokeWidth":6,"strokeJoin":"round"}},
{"data":{"name":"map"},"mark":{"type":"geoshape","stroke":"#000000","strokeWidth":1,"strokeJoin":"round"},
"encoding":{"color":{"field":"properties.band","type":"nominal","scale":{"domain":["70 to 80 (32)","65 to < 70 (54)","60 to < 65 (44)","52 to < 60 (22)"],"range":["#00305f","#005eb8","#5bc2e7","#d0d4d5"]},
"legend":{"title":"Percent","orient":"none","legendX":18,"legendY":7,"titleFontSize":21,"titleFont":"Liberation Sans","titleFontWeight":"bold","titleColor":"#000000","titlePadding":10,"labelFont":"Liberation Sans","labelFontSize":21.5,"labelColor":"#000000","labelOffset":10,"symbolType":"M-1,-0.375H1V0.375H-1Z","symbolSize":5184,"symbolStrokeWidth":0,"symbolOpacity":1,"clipHeight":27,"rowPadding":0,"padding":0,"labelLimit":300,"titleLimit":200}}}},
{"data":{"name":"label"},"mark":{"type":"text","font":"Liberation Sans","fontSize":20.5,"color":"#000000","baseline":"middle"},"encoding":{"longitude":{"field":"mapx","type":"quantitative"},"latitude":{"field":"mapy","type":"quantitative"},"text":{"field":"text"}}}
]}
